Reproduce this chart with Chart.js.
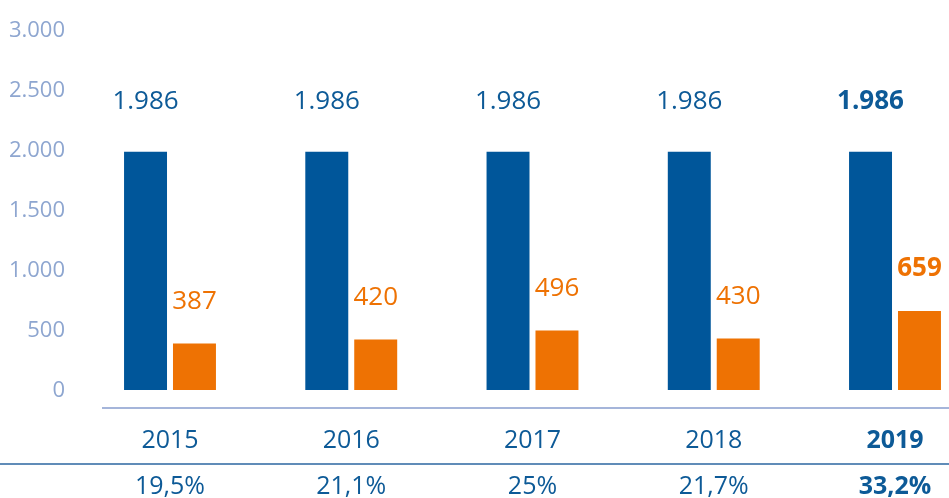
<!DOCTYPE html>
<html>
<head>
<meta charset="utf-8">
<script src="https://cdn.jsdelivr.net/npm/chart.js@4.4.1/dist/chart.umd.min.js"></script>
<style>
  body { margin: 0; background: #fff; }
  #wrap { width: 949px; height: 498px; }
</style>
</head>
<body>
<div id="wrap"><canvas id="barChart"></canvas></div>
<script>
const years = ['2015', '2016', '2017', '2018', '2019'];
const totalValues = [1986, 1986, 1986, 1986, 1986];
const partValues = [387, 420, 496, 430, 659];
const shareLabels = ['19,5%', '21,1%', '25%', '21,7%', '33,2%'];

const BLUE = '#00569a';
const ORANGE = '#ee7203';
const TEXT_BLUE = '#0d5a97';
const TICK_BLUE = '#8ea6d0';
const FONT = "'Open Sans', sans-serif";

const fmt = v => String(v).replace(/\B(?=(\d{3})+(?!\d))/g, '.');
const boldLast = size => ctx => ({ family: FONT, size: size, weight: ctx.index === 4 ? 'bold' : 'normal' });

// value labels above bars + the two separator lines
const extras = {
    id: 'extras',
    afterDatasetsDraw(chart) {
        const ctx = chart.ctx;
        ctx.save();
        ctx.textAlign = 'center';
        ctx.textBaseline = 'middle';
        chart.data.datasets.forEach((ds, di) => {
            const meta = chart.getDatasetMeta(di);
            meta.data.forEach((bar, i) => {
                const bold = i === 4 ? 'bold ' : '';
                ctx.font = bold + '26px ' + FONT;
                ctx.fillStyle = di === 0 ? TEXT_BLUE : ORANGE;
                ctx.fillText(fmt(ds.data[i]), bar.x, bar.y - (di === 0 ? 50 : 42));
            });
        });
        const x = chart.scales.x, x2 = chart.scales.x2;
        ctx.strokeStyle = '#a5b5da';
        ctx.lineWidth = 2;
        ctx.beginPath();
        ctx.moveTo(102, x.top + 18);
        ctx.lineTo(chart.width, x.top + 18);
        ctx.stroke();
        ctx.strokeStyle = '#2b66a0';
        ctx.lineWidth = 1.5;
        ctx.beginPath();
        ctx.moveTo(0, x2.top);
        ctx.lineTo(chart.width, x2.top);
        ctx.stroke();
        ctx.restore();
    }
};

const ctx = document.getElementById('barChart').getContext('2d');
new Chart(ctx, {
    type: 'bar',
    data: {
        labels: years,
        datasets: [{
            label: 'Total',
            data: totalValues,
            backgroundColor: BLUE,
            categoryPercentage: 0.54,
            barPercentage: 0.878,
            clip: false
        }, {
            label: 'Part',
            data: partValues,
            backgroundColor: ORANGE,
            categoryPercentage: 0.54,
            barPercentage: 0.878,
            clip: false
        }]
    },
    options: {
        responsive: true,
        maintainAspectRatio: false,
        animation: false,
        layout: { padding: { top: 30, right: 54, bottom: 0, left: 0 } },
        plugins: {
            legend: { display: false },
            tooltip: { enabled: false }
        },
        scales: {
            y: {
                min: 0,
                max: 3000,
                ticks: {
                    stepSize: 500,
                    padding: 105,
                    labelOffset: 1,
                    color: TICK_BLUE,
                    font: { family: FONT, size: 22 },
                    callback: v => fmt(v)
                },
                grid: { display: false, drawTicks: false },
                border: { display: false },
                afterFit: s => {
                    s.width = 170;
                    s.paddingTop = 12;
                    s.paddingBottom = 12;
                }
            },
            x: {
                offset: false,
                ticks: {
                    padding: 36,
                    color: TEXT_BLUE,
                    font: boldLast(25)
                },
                grid: { display: false, drawTicks: false },
                border: { display: false },
                afterFit: s => {
                    s.height = 74;
                    s.paddingLeft = 0;
                    s.paddingRight = 0;
                }
            },
            x2: {
                type: 'category',
                position: 'bottom',
                labels: shareLabels,
                offset: false,
                ticks: {
                    padding: 8,
                    color: TEXT_BLUE,
                    font: boldLast(25)
                },
                grid: { display: false, drawTicks: false },
                border: { display: false },
                afterFit: s => {
                    s.height = 34;
                    s.paddingLeft = 0;
                    s.paddingRight = 0;
                }
            }
        }
    },
    plugins: [extras]
});
</script>
</body>
</html>
